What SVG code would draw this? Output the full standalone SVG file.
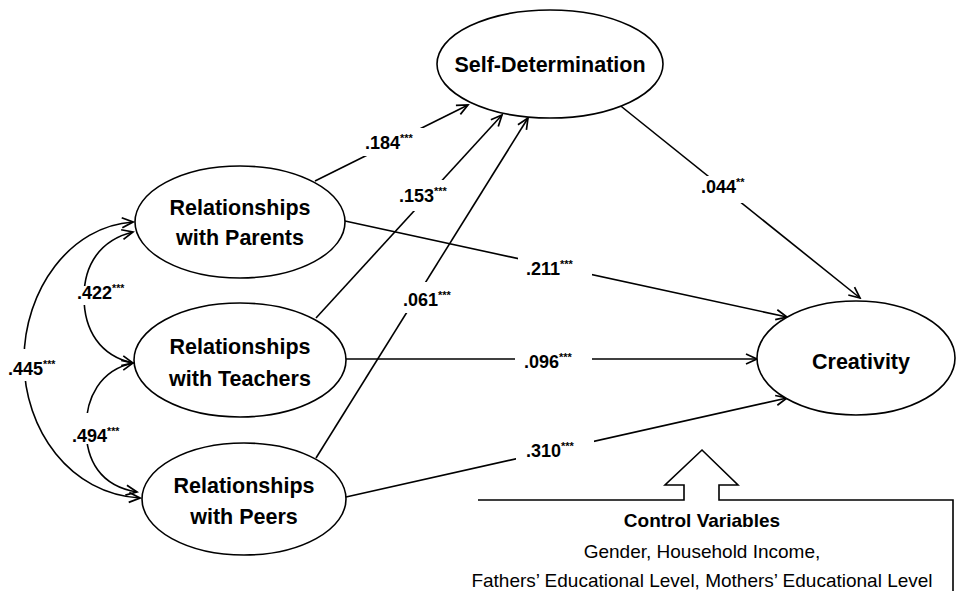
<svg xmlns="http://www.w3.org/2000/svg" width="956" height="591" viewBox="0 0 956 591">
<defs>
<marker id="ah" markerUnits="userSpaceOnUse" markerWidth="14" markerHeight="14" refX="12" refY="6" orient="auto-start-reverse" viewBox="0 0 14 12">
<path d="M1,1 L12,6 L1,11" fill="none" stroke="#000" stroke-width="1.7"/>
</marker>
<style>
.node ellipse{fill:#fff;stroke:#000;stroke-width:1.6}
.nt{font-family:"Liberation Sans",Arial,sans-serif;font-weight:bold;font-size:21.5px;text-anchor:middle;fill:#000}
.edge{fill:none;stroke:#000;stroke-width:1.6;marker-end:url(#ah)}
.cov{fill:none;stroke:#000;stroke-width:1.6;marker-start:url(#ah);marker-end:url(#ah)}
.lbl{font-family:"Liberation Sans",Arial,sans-serif;font-weight:bold;font-size:18px;fill:#000}
.bg{fill:#fff}
.ctl{font-family:"Liberation Sans",Arial,sans-serif;font-size:19px;text-anchor:middle;fill:#000}
</style>
</defs>
<rect width="956" height="591" fill="#fff"/>
<g id="connectors">
<line class="edge" x1="315" y1="181" x2="468" y2="105"/>
<line class="edge" x1="316" y1="318" x2="502" y2="115"/>
<line class="edge" x1="316" y1="458" x2="528" y2="118"/>
<line class="edge" x1="345" y1="221" x2="787" y2="317"/>
<line class="edge" x1="346" y1="359" x2="757" y2="359"/>
<line class="edge" x1="346" y1="497" x2="787" y2="398"/>
<line class="edge" x1="617" y1="103" x2="860" y2="298"/>
<path class="cov" d="M133,222 C70,226 24,290 24,360 C24,430 70,494 140,498"/>
<path class="cov" d="M133,232 C100,240 84,265 84,297 C84,330 100,356 133,363"/>
<path class="cov" d="M133,363 C100,370 86,398 86,428 C86,460 100,486 137,492"/>
</g>
<g id="labels">
<rect class="bg" x="359" y="128" width="66" height="28"/>
<text class="lbl" x="365" y="149">.184<tspan font-size="11" dy="-7">***</tspan></text>
<rect class="bg" x="395" y="180" width="60" height="31"/>
<text class="lbl" x="399" y="202">.153<tspan font-size="11" dy="-7">***</tspan></text>
<rect class="bg" x="400" y="282" width="58" height="31"/>
<text class="lbl" x="403" y="306">.061<tspan font-size="11" dy="-7">***</tspan></text>
<rect class="bg" x="518" y="255" width="74" height="26"/>
<text class="lbl" x="526" y="275">.211<tspan font-size="11" dy="-7">***</tspan></text>
<rect class="bg" x="515" y="348" width="77" height="24"/>
<text class="lbl" x="524" y="368">.096<tspan font-size="11" dy="-7">***</tspan></text>
<rect class="bg" x="516" y="440" width="78" height="25"/>
<text class="lbl" x="526" y="457">.310<tspan font-size="11" dy="-7">***</tspan></text>
<rect class="bg" x="699" y="176" width="54" height="27"/>
<text class="lbl" x="701" y="193">.044<tspan font-size="11" dy="-7">**</tspan></text>
<rect class="bg" x="74" y="286" width="50" height="19"/>
<text class="lbl" x="77" y="299" font-size="17">.422<tspan font-size="10.5" dy="-7">***</tspan></text>
<rect class="bg" x="5" y="349" width="53" height="32"/>
<text class="lbl" x="8" y="375" font-size="17">.445<tspan font-size="10.5" dy="-7">***</tspan></text>
<rect class="bg" x="69" y="413" width="50" height="31"/>
<text class="lbl" x="72" y="442" font-size="17">.494<tspan font-size="10.5" dy="-7">***</tspan></text>
</g>
<g id="self-determination" class="node">
<ellipse cx="550" cy="64" rx="113" ry="54"/>
<text class="nt" x="550" y="72">Self-Determination</text>
</g>
<g id="parents" class="node">
<ellipse cx="240" cy="222" rx="105" ry="56"/>
<text class="nt" x="240" y="215">Relationships</text>
<text class="nt" x="240" y="245">with Parents</text>
</g>
<g id="teachers" class="node">
<ellipse cx="240" cy="360" rx="106" ry="57"/>
<text class="nt" x="240" y="354">Relationships</text>
<text class="nt" x="240" y="386">with Teachers</text>
</g>
<g id="peers" class="node">
<ellipse cx="244" cy="499" rx="102" ry="56"/>
<text class="nt" x="244" y="493">Relationships</text>
<text class="nt" x="244" y="524">with Peers</text>
</g>
<g id="creativity" class="node">
<ellipse cx="856" cy="358" rx="99" ry="57"/>
<text class="nt" x="861" y="369">Creativity</text>
</g>
<g id="control-variables">
<path d="M478,500 L684,500 L684,485 L665,485 L702,450 L738,485 L719,485 L719,500 L953,500 L953,591" fill="#fff" stroke="#000" stroke-width="1.6"/>
<text class="ctl" x="702" y="527" font-weight="bold">Control Variables</text>
<text class="ctl" x="702" y="558">Gender, Household Income,</text>
<text class="ctl" x="702" y="587">Fathers’ Educational Level, Mothers’ Educational Level</text>
</g>
</svg>
